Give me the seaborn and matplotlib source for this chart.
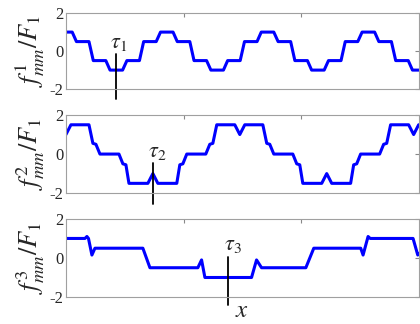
import matplotlib
matplotlib.use("Agg")
import matplotlib.pyplot as plt
import seaborn as sns

# stepped mmf waveforms, x in degrees (0..360), corners
f1_x = [-6.4, 6.4, 10.7, 23.5, 27.9, 40.7, 45.0, 57.8, 62.2, 75.0, 79.3, 92.1,
        96.5, 109.3, 113.6, 126.4, 130.7, 143.5, 147.9, 160.7, 165.0, 177.8,
        182.2, 195.0, 199.3, 212.1, 216.5, 229.3, 233.6, 246.4, 250.7, 263.5,
        267.9, 280.7, 285.0, 297.8, 302.2, 315.0, 319.3, 332.1, 336.5, 349.3,
        353.6, 366.4]
f1_y = [1, 1, 0.5, 0.5, -0.5, -0.5, -1, -1, -0.5, -0.5, 0.5, 0.5,
        1, 1, 0.5, 0.5, -0.5, -0.5, -1, -1, -0.5, -0.5,
        0.5, 0.5, 1, 1, 0.5, 0.5, -0.5, -0.5, -1, -1,
        -0.5, -0.5, 0.5, 0.5, 1, 1, 0.5, 0.5, -0.5, -0.5,
        -1, -1]

f2_x = [0, 5.1, 23.5, 27.5, 30.6, 34.7, 54.1, 58.1, 61.2, 64.3, 83.6, 88.7,
        93.8, 113.1, 116.2, 119.3, 123.3, 142.7, 146.8, 149.9, 153.9, 172.3,
        177.4, 182.5, 200.9, 204.9, 208.0, 212.1, 231.5, 235.5, 238.6, 241.7,
        261.0, 266.1, 271.2, 290.5, 293.6, 296.7, 300.7, 320.1, 324.2, 327.3,
        331.3, 349.7, 354.8, 359.9, 378.3]
f2_y = [1.0, 1.5, 1.5, 0.55, 0.5, 0, 0, -0.5, -0.55, -1.5, -1.5, -1.0,
        -1.5, -1.5, -0.55, -0.5, 0, 0, 0.5, 0.55, 1.5, 1.5,
        1.0, 1.5, 1.5, 0.55, 0.5, 0, 0, -0.5, -0.55, -1.5,
        -1.5, -1.0, -1.5, -1.5, -0.55, -0.5, 0, 0, 0.5, 0.55,
        1.5, 1.5, 1.0, 1.5, 1.5]

f3_x = [0, 19.4, 21.4, 23.0, 26.5, 29.6, 78.5, 85.7, 134.6, 138.4, 141.8,
        189.4, 194.5, 199.6, 244.8, 252.9, 300.8, 303.2, 308.3, 310.5, 354.2,
        359.0, 362.0]
f3_y = [1.0, 1.0, 1.1, 1.0, 0.15, 0.5, 0.5, -0.5, -0.5, -0.1, -1.0,
        -1.0, -0.1, -0.5, -0.5, 0.5, 0.5, 0.15, 1.1, 1.0, 1.0,
        0.15, 0.3]

# tau markers: position, line top / bottom, label position
tau_x = [51.4, 89.0, 165.0]
tau_top = [-0.17, -0.45, 0.07]
tau_bottom = [-2.52, -2.55, -2.42]
tau_label_x = [54.0, 92.8, 170.5]
tau_label_y = [0.42, 0.08, 0.62]
tau_names = [r"$\tau_1$", r"$\tau_2$", r"$\tau_3$"]

ylabels = [r"$f^{1}_{mm}/F_{\mathit{1}}$", r"$f^{2}_{mm}/F_{\mathit{1}}$",
           r"$f^{3}_{mm}/F_{\mathit{1}}$"]
yticks = [-2, 0, 2]
ytick_labels = ["-2", "0", "2"]
xticks = [120, 240]

sns.set_style("white")
plt.rcParams["font.family"] = ["Liberation Serif", "DejaVu Serif"]
plt.rcParams["mathtext.fontset"] = "stix"

fig = plt.figure(figsize=(4.2, 3.24), dpi=100)
boxes = [[0.157, 0.725, 0.84, 0.2346],
         [0.157, 0.404, 0.84, 0.241],
         [0.157, 0.0833, 0.84, 0.241]]
series = [(f1_x, f1_y), (f2_x, f2_y), (f3_x, f3_y)]

for i, (xs, ys) in enumerate(series):
    ax = fig.add_axes(boxes[i])
    sns.lineplot(x=xs, y=ys, ax=ax, color="#0000ff", lw=2.2,
                 estimator=None, sort=False)
    ax.set_xlim(0, 360)
    ax.set_ylim(-2, 2)
    ax.set_xticks(xticks)
    ax.set_xticklabels([])
    ax.set_yticks(yticks)
    ax.set_yticklabels(ytick_labels, fontsize=12)
    ax.tick_params(direction="in", top=True, right=True, length=3,
                   color="#888888", pad=2)
    for sp in ax.spines.values():
        sp.set_color("#a0a0a0")
        sp.set_linewidth(0.8)
    ax.set_ylabel(ylabels[i], fontsize=19)
    ax.yaxis.set_label_coords(-0.055, 0.5)

    ax.plot([tau_x[i], tau_x[i]], [tau_top[i], tau_bottom[i]],
            color="black", lw=1.3, clip_on=False)
    ax.text(tau_label_x[i], tau_label_y[i], tau_names[i], fontsize=16,
            ha="center", va="center")

    if i == 2:
        ax.set_xlabel(r"$x$", fontsize=18, labelpad=0)

fig.savefig("out.png", dpi=100)
